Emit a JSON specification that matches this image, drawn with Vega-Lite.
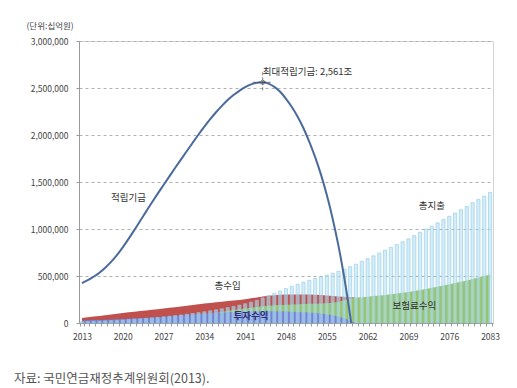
{
  "$schema": "https://vega.github.io/schema/vega-lite/v6.json",
  "width": 414,
  "height": 282,
  "autosize": {"type": "none"},
  "padding": {"left": 79, "top": 41, "right": 24, "bottom": 65},
  "background": "white",
  "config": {
    "font": "Noto Sans CJK KR",
    "view": {"stroke": "#d4d4d4", "strokeWidth": 1},
    "axis": {"labelFont": "Noto Sans CJK KR", "titleFont": "Noto Sans CJK KR"}
  },
  "title": {
    "text": "자료: 국민연금재정추계위원회(2013).",
    "orient": "bottom",
    "anchor": "start",
    "frame": "group",
    "dx": -65,
    "offset": 32,
    "fontSize": 12.5,
    "fontWeight": "normal",
    "color": "#555555",
    "font": "Noto Sans CJK KR"
  },
  "datasets": {
    "main": [
      {"year": 2013, "fund": 425000, "expenditure": 14000, "revenue": 53000, "contribution": null, "investment": 25000},
      {"year": 2014, "fund": 455000, "expenditure": 16000, "revenue": 60000, "contribution": null, "investment": 28000},
      {"year": 2015, "fund": 492000, "expenditure": 18000, "revenue": 68000, "contribution": null, "investment": 31000},
      {"year": 2016, "fund": 535000, "expenditure": 20000, "revenue": 75000, "contribution": null, "investment": 33000},
      {"year": 2017, "fund": 588000, "expenditure": 23000, "revenue": 83000, "contribution": null, "investment": 35000},
      {"year": 2018, "fund": 650000, "expenditure": 26000, "revenue": 91000, "contribution": null, "investment": 37000},
      {"year": 2019, "fund": 722000, "expenditure": 29000, "revenue": 99000, "contribution": null, "investment": 39000},
      {"year": 2020, "fund": 805000, "expenditure": 33000, "revenue": 107000, "contribution": null, "investment": 41000},
      {"year": 2021, "fund": 895000, "expenditure": 37000, "revenue": 114000, "contribution": null, "investment": 44000},
      {"year": 2022, "fund": 990000, "expenditure": 41000, "revenue": 120000, "contribution": null, "investment": 47000},
      {"year": 2023, "fund": 1087000, "expenditure": 45000, "revenue": 127000, "contribution": null, "investment": 50000},
      {"year": 2024, "fund": 1185000, "expenditure": 50000, "revenue": 134000, "contribution": null, "investment": 54000},
      {"year": 2025, "fund": 1282000, "expenditure": 55000, "revenue": 140000, "contribution": null, "investment": 58000},
      {"year": 2026, "fund": 1376000, "expenditure": 60000, "revenue": 147000, "contribution": null, "investment": 62000},
      {"year": 2027, "fund": 1468000, "expenditure": 66000, "revenue": 153000, "contribution": null, "investment": 66000},
      {"year": 2028, "fund": 1560000, "expenditure": 72000, "revenue": 161000, "contribution": null, "investment": 70000},
      {"year": 2029, "fund": 1651000, "expenditure": 79000, "revenue": 168000, "contribution": null, "investment": 75000},
      {"year": 2030, "fund": 1741000, "expenditure": 86000, "revenue": 176000, "contribution": null, "investment": 80000},
      {"year": 2031, "fund": 1830000, "expenditure": 94000, "revenue": 184000, "contribution": null, "investment": 85000},
      {"year": 2032, "fund": 1918000, "expenditure": 102000, "revenue": 192000, "contribution": null, "investment": 90000},
      {"year": 2033, "fund": 2005000, "expenditure": 111000, "revenue": 200000, "contribution": null, "investment": 95000},
      {"year": 2034, "fund": 2088000, "expenditure": 120000, "revenue": 207000, "contribution": null, "investment": 100000},
      {"year": 2035, "fund": 2168000, "expenditure": 130000, "revenue": 213000, "contribution": null, "investment": 104000},
      {"year": 2036, "fund": 2242000, "expenditure": 141000, "revenue": 220000, "contribution": 108000, "investment": 108000},
      {"year": 2037, "fund": 2310000, "expenditure": 152000, "revenue": 227000, "contribution": 118000, "investment": 111000},
      {"year": 2038, "fund": 2372000, "expenditure": 164000, "revenue": 233000, "contribution": 128000, "investment": 114000},
      {"year": 2039, "fund": 2425000, "expenditure": 177000, "revenue": 239000, "contribution": 137000, "investment": 117000},
      {"year": 2040, "fund": 2470000, "expenditure": 190000, "revenue": 245000, "contribution": 146000, "investment": 120000},
      {"year": 2041, "fund": 2510000, "expenditure": 205000, "revenue": 252000, "contribution": 154000, "investment": 122000},
      {"year": 2042, "fund": 2538000, "expenditure": 222000, "revenue": 262000, "contribution": 162000, "investment": 124000},
      {"year": 2043, "fund": 2555000, "expenditure": 242000, "revenue": 272000, "contribution": 170000, "investment": 125000},
      {"year": 2044, "fund": 2561000, "expenditure": 268000, "revenue": 282000, "contribution": 177000, "investment": 126000},
      {"year": 2045, "fund": 2547000, "expenditure": 292000, "revenue": 290000, "contribution": 183000, "investment": 126000},
      {"year": 2046, "fund": 2512000, "expenditure": 315000, "revenue": 296000, "contribution": 188000, "investment": 125000},
      {"year": 2047, "fund": 2460000, "expenditure": 340000, "revenue": 300000, "contribution": 192000, "investment": 124000},
      {"year": 2048, "fund": 2385000, "expenditure": 365000, "revenue": 302000, "contribution": 195000, "investment": 122000},
      {"year": 2049, "fund": 2298000, "expenditure": 390000, "revenue": 303000, "contribution": 198000, "investment": 120000},
      {"year": 2050, "fund": 2195000, "expenditure": 413000, "revenue": 303000, "contribution": 200000, "investment": 118000},
      {"year": 2051, "fund": 2072000, "expenditure": 435000, "revenue": 303000, "contribution": 202000, "investment": 115000},
      {"year": 2052, "fund": 1928000, "expenditure": 455000, "revenue": 302000, "contribution": 204000, "investment": 111000},
      {"year": 2053, "fund": 1765000, "expenditure": 474000, "revenue": 300000, "contribution": 206000, "investment": 106000},
      {"year": 2054, "fund": 1578000, "expenditure": 492000, "revenue": 297000, "contribution": 208000, "investment": 100000},
      {"year": 2055, "fund": 1361000, "expenditure": 510000, "revenue": 293000, "contribution": 211000, "investment": 92000},
      {"year": 2056, "fund": 1110000, "expenditure": 530000, "revenue": 288000, "contribution": 216000, "investment": 82000},
      {"year": 2057, "fund": 820000, "expenditure": 551000, "revenue": 283000, "contribution": 226000, "investment": 68000},
      {"year": 2058, "fund": 480000, "expenditure": 574000, "revenue": 278000, "contribution": 242000, "investment": 50000},
      {"year": 2059, "fund": 80000, "expenditure": 599000, "revenue": 274000, "contribution": 258000, "investment": 26000},
      {"year": 2060, "fund": -400000, "expenditure": 625000, "revenue": 271000, "contribution": 271000, "investment": 0},
      {"year": 2061, "fund": null, "expenditure": 655000, "revenue": null, "contribution": 275000, "investment": null},
      {"year": 2062, "fund": null, "expenditure": 685000, "revenue": null, "contribution": 280000, "investment": null},
      {"year": 2063, "fund": null, "expenditure": 715000, "revenue": null, "contribution": 286000, "investment": null},
      {"year": 2064, "fund": null, "expenditure": 745000, "revenue": null, "contribution": 292000, "investment": null},
      {"year": 2065, "fund": null, "expenditure": 775000, "revenue": null, "contribution": 299000, "investment": null},
      {"year": 2066, "fund": null, "expenditure": 805000, "revenue": null, "contribution": 306000, "investment": null},
      {"year": 2067, "fund": null, "expenditure": 835000, "revenue": null, "contribution": 313000, "investment": null},
      {"year": 2068, "fund": null, "expenditure": 865000, "revenue": null, "contribution": 321000, "investment": null},
      {"year": 2069, "fund": null, "expenditure": 895000, "revenue": null, "contribution": 330000, "investment": null},
      {"year": 2070, "fund": null, "expenditure": 930000, "revenue": null, "contribution": 340000, "investment": null},
      {"year": 2071, "fund": null, "expenditure": 965000, "revenue": null, "contribution": 351000, "investment": null},
      {"year": 2072, "fund": null, "expenditure": 1000000, "revenue": null, "contribution": 362000, "investment": null},
      {"year": 2073, "fund": null, "expenditure": 1030000, "revenue": null, "contribution": 374000, "investment": null},
      {"year": 2074, "fund": null, "expenditure": 1065000, "revenue": null, "contribution": 386000, "investment": null},
      {"year": 2075, "fund": null, "expenditure": 1100000, "revenue": null, "contribution": 399000, "investment": null},
      {"year": 2076, "fund": null, "expenditure": 1135000, "revenue": null, "contribution": 412000, "investment": null},
      {"year": 2077, "fund": null, "expenditure": 1170000, "revenue": null, "contribution": 425000, "investment": null},
      {"year": 2078, "fund": null, "expenditure": 1205000, "revenue": null, "contribution": 439000, "investment": null},
      {"year": 2079, "fund": null, "expenditure": 1240000, "revenue": null, "contribution": 453000, "investment": null},
      {"year": 2080, "fund": null, "expenditure": 1280000, "revenue": null, "contribution": 468000, "investment": null},
      {"year": 2081, "fund": null, "expenditure": 1315000, "revenue": null, "contribution": 483000, "investment": null},
      {"year": 2082, "fund": null, "expenditure": 1350000, "revenue": null, "contribution": 499000, "investment": null},
      {"year": 2083, "fund": null, "expenditure": 1390000, "revenue": null, "contribution": 516000, "investment": null}
    ],
    "notes": [
      {"year": 2044, "value": 2672000, "label": "최대적립기금: 2,561조", "kind": "peak"},
      {"year": 2021, "value": 1329000, "label": "적립기금", "kind": "plain"},
      {"year": 2038, "value": 391000, "label": "총수입", "kind": "plain"},
      {"year": 2070, "value": 178000, "label": "보험료수익", "kind": "plain"},
      {"year": 2073, "value": 1244000, "label": "총지출", "kind": "plain"},
      {"year": 2042, "value": 71000, "label": "투자수익", "kind": "inv"}
    ],
    "peak": [{"year": 2044, "value": 2561000}]
  },
  "data": {"name": "main"},
  "encoding": {
    "x": {
      "field": "year",
      "type": "ordinal",
      "scale": {"paddingInner": 0.45, "paddingOuter": 0.225},
      "axis": {
        "title": null,
        "labelAngle": 0,
        "labelExpr": "(datum.value - 2013) % 7 == 0 ? datum.label : ''",
        "labelOverlap": false,
        "labelFontSize": 8.5,
        "labelColor": "#444444",
        "labelPadding": 6,
        "tickSize": 3,
        "tickBand": "extent",
        "tickColor": "#9a9a9a",
        "domainColor": "#9a9a9a"
      }
    }
  },
  "layer": [
    {
      "mark": {"type": "area", "color": "#c0504d"},
      "encoding": {
        "y": {
          "field": "revenue",
          "type": "quantitative",
          "scale": {"domain": [0, 3000000], "nice": false},
          "axis": {
            "values": [0, 500000, 1000000, 1500000, 2000000, 2500000, 3000000],
            "format": ",.0f",
            "grid": true,
            "gridDash": [3, 3],
            "gridColor": "#b0b0b0",
            "tickSize": 3,
            "tickColor": "#9a9a9a",
            "domainColor": "#9a9a9a",
            "labelFontSize": 8.5,
            "labelColor": "#444444",
            "labelPadding": 8,
            "title": "(단위:십억원)",
            "titleAngle": 0,
            "titleX": -53,
            "titleY": -16,
            "titleAlign": "left",
            "titleBaseline": "middle",
            "titleFontWeight": "normal",
            "titleFontSize": 8.5,
            "titleColor": "#444444"
          }
        }
      }
    },
    {
      "mark": {"type": "area", "color": "#9bc462"},
      "encoding": {"y": {"field": "contribution", "type": "quantitative"}}
    },
    {
      "mark": {"type": "area", "color": "#7880d4"},
      "encoding": {"y": {"field": "investment", "type": "quantitative"}}
    },
    {
      "mark": {"type": "bar", "fill": "#b8e1f3", "fillOpacity": 0.6, "stroke": "#8ccbe6", "strokeWidth": 0.6},
      "encoding": {"y": {"field": "expenditure", "type": "quantitative"}}
    },
    {
      "mark": {"type": "line", "color": "#4a6a9c", "strokeWidth": 2, "interpolate": "monotone", "clip": true},
      "encoding": {"y": {"field": "fund", "type": "quantitative"}}
    },
    {
      "data": {"name": "peak"},
      "mark": {"type": "point", "shape": "M-1,0L1,0M0,-1L0,1", "size": 400, "stroke": "#444444", "strokeWidth": 1, "strokeDash": [3, 2], "filled": false},
      "encoding": {"y": {"field": "value", "type": "quantitative"}}
    },
    {
      "data": {"name": "peak"},
      "mark": {"type": "point", "shape": "circle", "size": 16, "stroke": "#444444", "strokeWidth": 1, "filled": false},
      "encoding": {"y": {"field": "value", "type": "quantitative"}}
    },
    {
      "data": {"name": "notes"},
      "transform": [{"filter": "datum.kind == 'peak'"}],
      "mark": {"type": "text", "align": "left", "baseline": "middle", "fontSize": 9.5, "color": "#333333"},
      "encoding": {"y": {"field": "value", "type": "quantitative"}, "text": {"field": "label"}}
    },
    {
      "data": {"name": "notes"},
      "transform": [{"filter": "datum.kind == 'plain'"}],
      "mark": {"type": "text", "align": "center", "baseline": "middle", "fontSize": 9.5, "color": "#333333"},
      "encoding": {"y": {"field": "value", "type": "quantitative"}, "text": {"field": "label"}}
    },
    {
      "data": {"name": "notes"},
      "transform": [{"filter": "datum.kind == 'inv'"}],
      "mark": {"type": "text", "align": "center", "baseline": "middle", "fontSize": 9.5, "fontWeight": "bold", "color": "#2f2f6e"},
      "encoding": {"y": {"field": "value", "type": "quantitative"}, "text": {"field": "label"}}
    }
  ]
}
